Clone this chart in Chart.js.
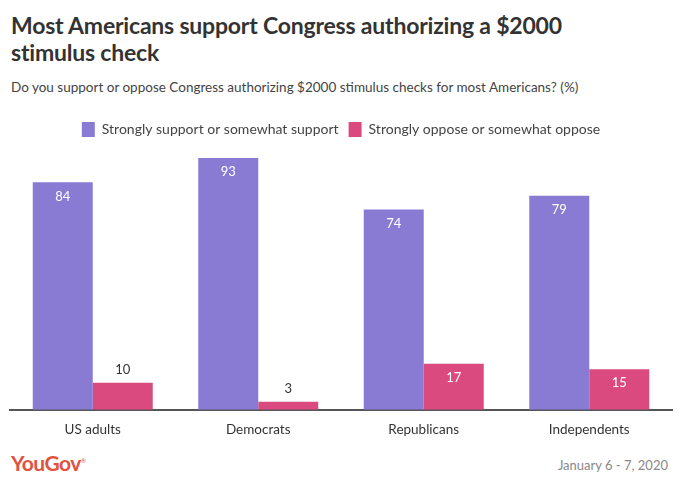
<!DOCTYPE html>
<html><head><meta charset="utf-8">
<script src="https://cdn.jsdelivr.net/npm/chart.js@4"></script>
<style>
html,body{margin:0;padding:0;background:#fff;width:680px;height:494px;overflow:hidden;font-family:Lato,"Open Sans",sans-serif;}
#title{position:absolute;left:11px;top:12px;width:660px;font-size:23px;font-weight:700;color:#333;line-height:27px;letter-spacing:-0.2px;}
#sub{position:absolute;left:11px;top:79px;font-size:13.5px;color:#444;}
#wrap{position:absolute;left:0;top:112px;width:680px;height:330px;}
#logo{position:absolute;left:11px;top:450px;font-size:21px;font-weight:700;color:#e0533f;letter-spacing:-0.5px;}
#date{position:absolute;right:12px;top:457px;font-size:13px;color:#888;}
</style></head><body>
<div id="title">Most Americans support Congress authorizing a $2000<br>stimulus check</div>
<div id="sub">Do you support or oppose Congress authorizing $2000 stimulus checks for most Americans? (%)</div>
<div id="wrap"><canvas id="c" width="680" height="330"></canvas></div>
<div id="logo">YouGov<sup style="font-size:6px;font-weight:400">®</sup></div>
<div id="date">January 6 - 7, 2020</div>
<script>
const categories = ["US adults", "Democrats", "Republicans", "Independents"];
const seriesNames = ["Strongly support or somewhat support", "Strongly oppose or somewhat oppose"];
const supportValues = [84, 93, 74, 79];
const opposeValues = [10, 3, 17, 15];

const valueLabels = {
  id: 'valueLabels',
  afterDatasetsDraw(chart) {
    const ctx = chart.ctx;
    ctx.save();
    ctx.font = '13px Lato, sans-serif';
    ctx.textAlign = 'center';
    ctx.textBaseline = 'middle';
    chart.data.datasets.forEach((ds, di) => {
      chart.getDatasetMeta(di).data.forEach((bar, i) => {
        const v = ds.data[i];
        if (v >= 15) { ctx.fillStyle = '#fff'; ctx.fillText(String(v), bar.x, bar.y + 14); }
        else { ctx.fillStyle = '#333'; ctx.fillText(String(v), bar.x, bar.y - 13); }
      });
    });
    ctx.restore();
  }
};

const legendHeight = {
  id: 'legendHeight',
  afterInit(chart) {
    const lg = chart.legend;
    const fit = lg.fit.bind(lg);
    lg.fit = function () { fit(); this.height = 27; };
  }
};

new Chart(document.getElementById('c'), {
  type: 'bar',
  data: {
    labels: categories,
    datasets: [
      { label: seriesNames[0], data: supportValues, backgroundColor: '#897bd4', categoryPercentage: 0.725, barPercentage: 1 },
      { label: seriesNames[1], data: opposeValues, backgroundColor: '#da4a7e', categoryPercentage: 0.725, barPercentage: 1 }
    ]
  },
  options: {
    responsive: false,
    animation: false,
    layout: { padding: { left: 10, right: 8, top: 0, bottom: 0 } },
    plugins: {
      legend: {
        position: 'top',
        labels: { boxWidth: 13, boxHeight: 15, color: '#444', font: { family: 'Lato', size: 14 }, padding: 10 }
      },
      tooltip: { enabled: false }
    },
    scales: {
      y: { display: false, min: 0, max: 100 },
      x: {
        grid: { display: false },
        border: { color: '#555', width: 2 },
        ticks: { color: '#333', font: { family: 'Lato', size: 13.5 }, padding: 4 }
      }
    }
  },
  plugins: [valueLabels, legendHeight]
});
</script>
</body></html>
